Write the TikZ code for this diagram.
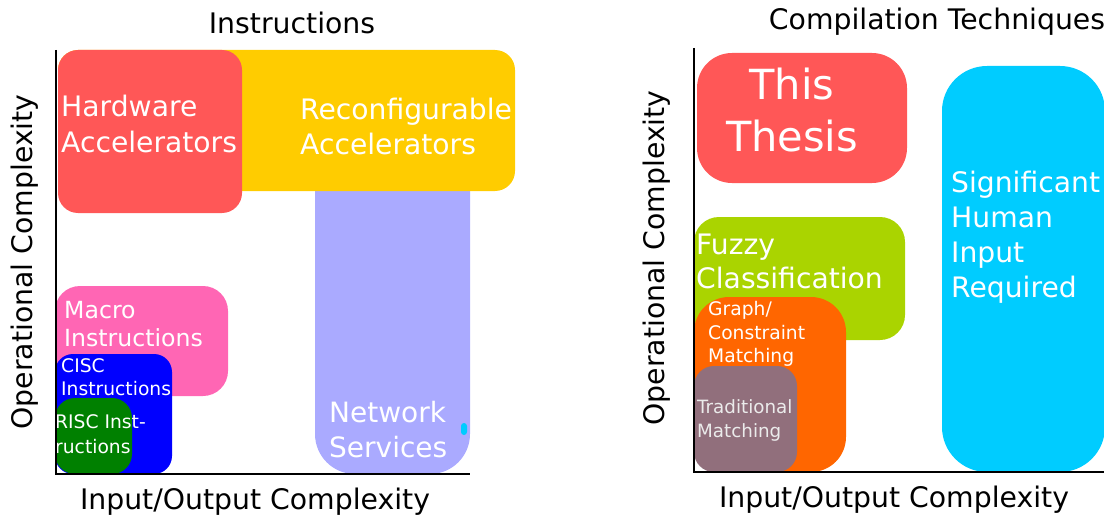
\documentclass[tikz,border=0pt]{standalone}
\usepackage{fontspec}
\setmainfont{DejaVu Sans}

\definecolor{hwred}{HTML}{FF5757}
\definecolor{reconfyellow}{HTML}{FFCC00}
\definecolor{netlavender}{HTML}{AAAAFF}
\definecolor{macropink}{HTML}{FF66B4}
\definecolor{ciscblue}{HTML}{0000FF}
\definecolor{riscgreen}{HTML}{008000}
\definecolor{humancyan}{HTML}{00CCFF}
\definecolor{fuzzygreen}{HTML}{AAD400}
\definecolor{graphorange}{HTML}{FF6600}
\definecolor{tradmauve}{HTML}{916F7C}

\newcommand{\axisfont}{\fontsize{28.3}{34}\selectfont}
\tikzset{
    region/.style={rounded corners=#1},
    boxlabel/.style={text=white, align=left, inner sep=0pt, anchor=west},
}

\begin{document}
\begin{tikzpicture}[x=1pt, y=-1pt]
    \useasboundingbox (0,0) rectangle (1104,519);

    %% Instructions
    \begin{scope}
        \node (instrtitle) at (292,23) {\axisfont Instructions};
        \node[rotate=90] (instrylabel) at (25,262) {\axisfont Operational Complexity};
        \node (instrxlabel) at (255,502) {\axisfont Input/Output Complexity};

        \fill[netlavender, region=40pt] (315,150) rectangle (470,474);
        \fill[reconfyellow, region=20pt] (58,50) rectangle (515,191);
        \fill[hwred, region=20pt] (58,50) rectangle (242,213);
        \node[boxlabel, font=\fontsize{28.2}{36}\selectfont] (hwlabel) at (61,124) {Hardware\\Accelerators};
        \node[boxlabel, font=\fontsize{28.2}{35}\selectfont] (reconflabel) at (300,126) {Reconfigurable\\Accelerators};

        \node[boxlabel, font=\fontsize{28}{35}\selectfont] (netlabel) at (329,430) {Network\\Services};
        \fill[humancyan, region=3pt] (461,423) rectangle (467,435);

        \fill[macropink, region=25pt] (55,286) rectangle (228,396);
        \node[boxlabel, font=\fontsize{23.6}{28}\selectfont] (macrolabel) at (64,324) {Macro\\Instructions};

        \fill[ciscblue, region=18pt] (55,354) rectangle (172,474);
        \node[boxlabel, font=\fontsize{18.7}{23}\selectfont] (cisclabel) at (61,377) {CISC\\Instructions};

        \fill[riscgreen, region=20pt] (55,398) rectangle (132,474);
        \node[boxlabel, font=\fontsize{18.7}{25}\selectfont] (risclabel) at (55,434) {RISC Inst-\\ructions};

        \draw[line width=1.5pt] (56,50) -- (56,474) -- (470,474);
    \end{scope}

    %% Compilation techniques
    \begin{scope}
        \node (comptitle) at (937,22) {\axisfont Compilation Techniques};
        \node[rotate=90] (compylabel) at (657,258) {\axisfont Operational Complexity};
        \node (compxlabel) at (894,500) {\axisfont Input/Output Complexity};

        \fill[hwred, region=35pt] (697,53) rectangle (907,183);
        \node[text=white, align=center, inner sep=0pt, font=\fontsize{41.5}{52}\selectfont] (thesislabel) at (792,110) {This\\Thesis};

        \fill[humancyan, region=45pt] (942,66) rectangle (1105,472);
        \node[boxlabel, font=\fontsize{28.2}{35}\selectfont] (humanlabel) at (951,237) {Significant\\Human\\Input\\Required};

        \fill[fuzzygreen, region=25pt] (694,217) rectangle (905,340);
        \node[boxlabel, font=\fontsize{28.2}{34}\selectfont] (fuzzylabel) at (696,261) {Fuzzy\\Classification};

        \fill[graphorange, region=35pt] (694,297) rectangle (846,472);
        \node[boxlabel, font=\fontsize{18.7}{23.5}\selectfont] (graphlabel) at (708,334) {Graph/\\Constraint\\Matching};

        \fill[tradmauve, region=20pt] (694,366) rectangle (797,472);
        \node[boxlabel, text=white!92!black, font=\fontsize{18.3}{24}\selectfont] (tradlabel) at (697,420) {Traditional\\Matching};

        \draw[line width=1.5pt] (694,48) -- (694,472) -- (1104,472);
    \end{scope}

\end{tikzpicture}
\end{document}
